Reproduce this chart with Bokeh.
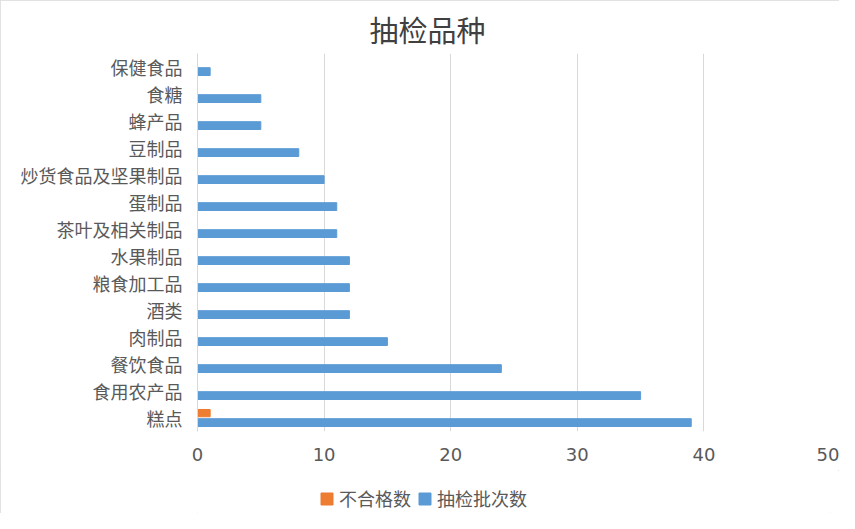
from bokeh.plotting import figure
from bokeh.layouts import column
from bokeh.models import FactorRange, Range1d, Legend, LegendItem, ColumnDataSource, FixedTicker
from bokeh.transform import dodge
from bokeh.embed import file_html
from bokeh.resources import INLINE

categories = ["糕点", "食用农产品", "餐饮食品", "肉制品", "酒类", "粮食加工品", "水果制品",
              "茶叶及相关制品", "蛋制品", "炒货食品及坚果制品", "豆制品", "蜂产品", "食糖", "保健食品"]
inspected = [39, 35, 24, 15, 12, 12, 12, 11, 11, 10, 8, 5, 5, 1]
failed = [1, 0, 0, 0, 0, 0, 0, 0, 0, 0, 0, 0, 0, 0]
x_ticks = [0, 10, 20, 30, 40, 50]
series_names = ["不合格数", "抽检批次数"]
series_colors = ["#ED7D31", "#5B9BD5"]

FONT = "Noto Sans CJK SC"
TXT = "#595959"

src = ColumnDataSource(dict(cat=categories, inspected=inspected, failed=failed))

p = figure(width=839, height=470, output_backend="svg", toolbar_location=None,
           y_range=FactorRange(factors=categories, range_padding=0),
           x_range=Range1d(0, 50),
           min_border_left=197, min_border_right=9, min_border_top=53, min_border_bottom=39)

p.hbar(y=dodge("cat", 0.18, range=p.y_range), right="failed", left=0, height=0.27,
       color=series_colors[0], source=src)
p.hbar(y=dodge("cat", -0.17, range=p.y_range), right="inspected", left=0, height=0.29,
       color=series_colors[1], source=src)

p.title.text = "抽检品种"
p.title.align = "left"
p.title.offset = 172
p.title.standoff = 7
p.title.text_font = FONT
p.title.text_font_size = "29px"
p.title.text_font_style = "normal"
p.title.text_color = "#404040"

p.outline_line_color = None
p.ygrid.visible = False
p.xgrid.grid_line_color = "#d9d9d9"
p.xgrid.grid_line_width = 1

p.xaxis.ticker = FixedTicker(ticks=x_ticks)
p.xaxis.axis_line_color = None
p.xaxis.major_tick_line_color = None
p.xaxis.minor_tick_line_color = None
p.xaxis.major_label_text_font = "DejaVu Sans"
p.xaxis.major_label_text_font_size = "18px"
p.xaxis.major_label_text_color = TXT
p.xaxis.major_label_standoff = 10

p.yaxis.axis_line_color = "#d9d9d9"
p.yaxis.major_tick_line_color = None
p.yaxis.minor_tick_line_color = None
p.yaxis.major_label_text_font = FONT
p.yaxis.major_label_text_font_size = "18px"
p.yaxis.major_label_text_color = TXT
p.yaxis.major_label_standoff = 9

# legend strip below the chart (its frame is aligned with the chart's frame)
lg = figure(width=839, height=43, output_backend="svg", toolbar_location=None,
            x_range=Range1d(0, 1), y_range=Range1d(0, 1),
            x_axis_type=None, y_axis_type=None,
            min_border_left=0, min_border_right=0, min_border_top=0, min_border_bottom=0)
lg.outline_line_color = None
lg.grid.visible = False
offscreen = ColumnDataSource(dict(y=[-5], right=[-5]))
items = []
for name, col in zip(series_names, series_colors):
    r = lg.hbar(y="y", right="right", left=-6, height=0.5, color=col, source=offscreen)
    items.append(LegendItem(label=name, renderers=[r]))
legend = Legend(items=items, orientation="horizontal", location=(122, 2),
                label_text_font=FONT, label_text_font_size="18px", label_text_color=TXT,
                glyph_width=15, glyph_height=15, label_height=24, spacing=6, label_standoff=5,
                border_line_color=None, background_fill_alpha=0, margin=0, padding=0)
lg.add_layout(legend)

layout = column(p, lg, spacing=0)
layout.styles = {"outline": "1px solid #d9d9d9", "outline-offset": "-1px"}
open("out.html", "w").write(file_html(layout, INLINE))
